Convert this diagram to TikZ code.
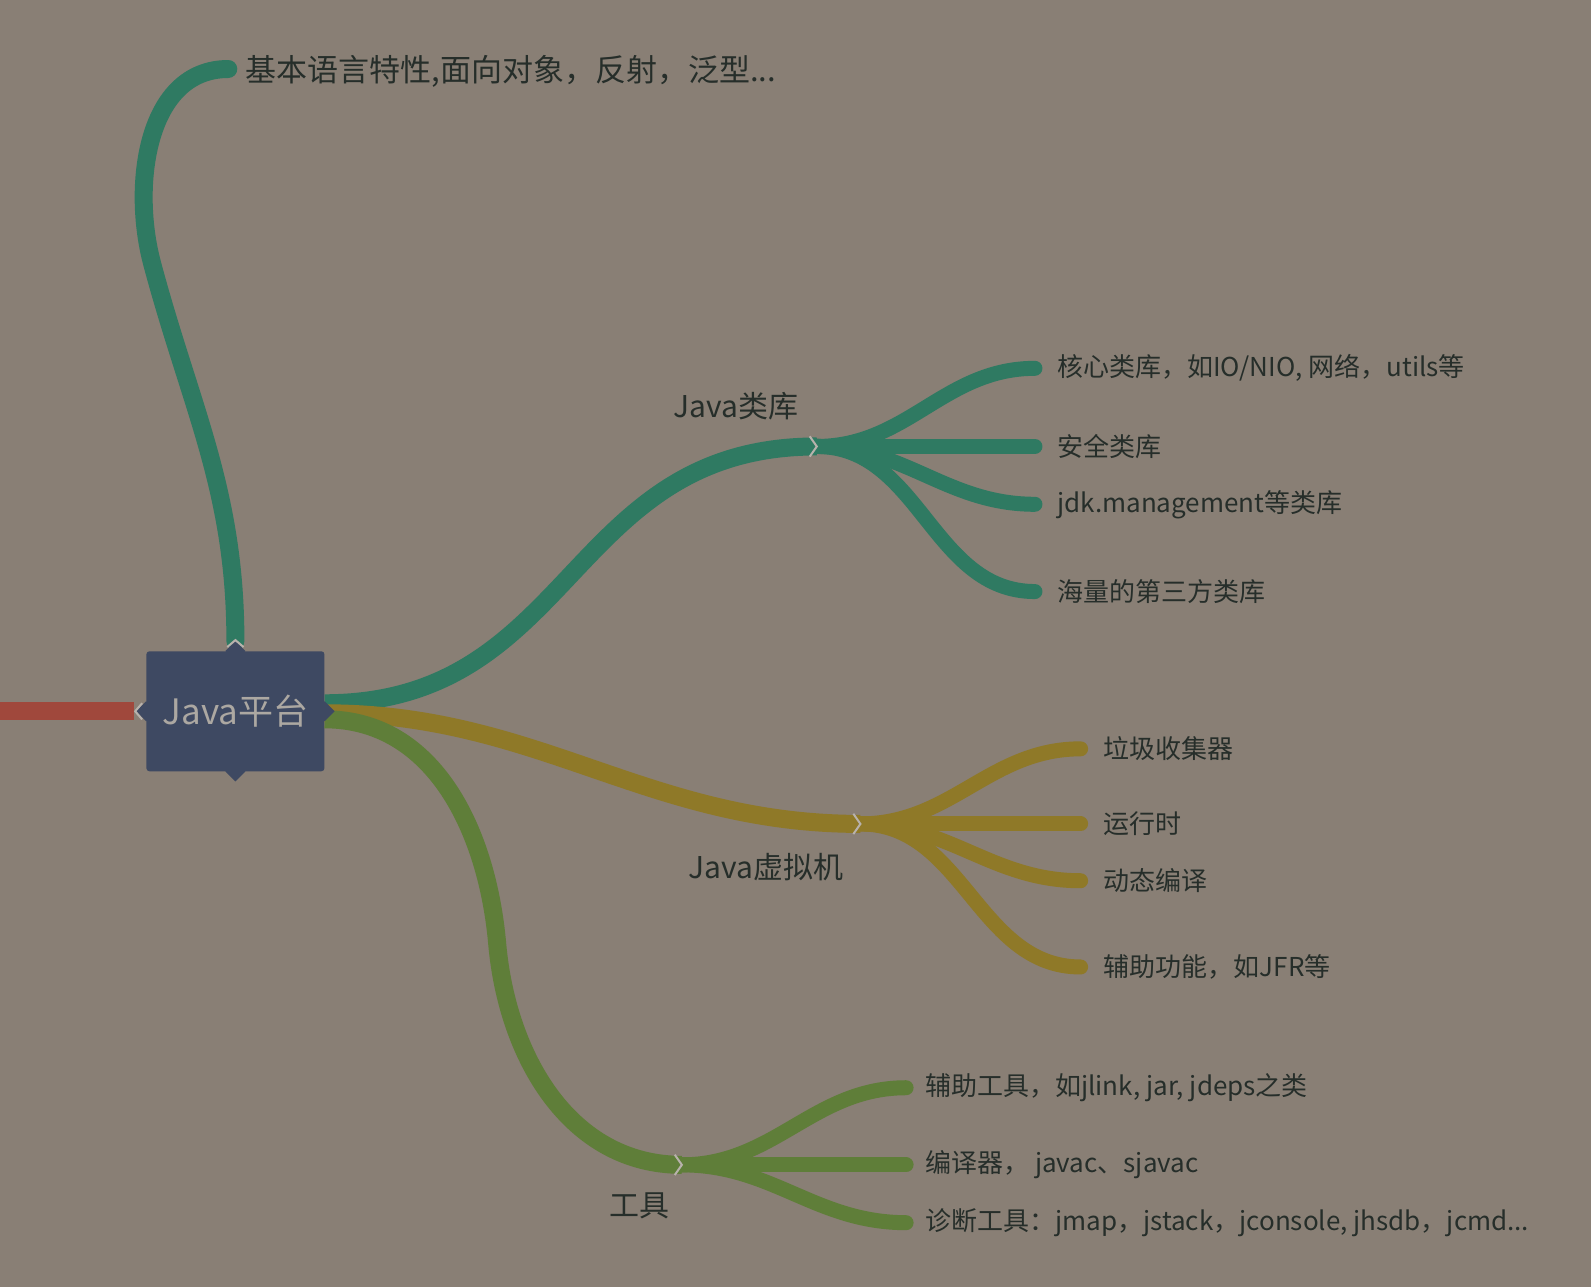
\documentclass[tikz,border=0pt]{standalone}
\usepackage{fontspec}
\setmainfont{Noto Sans CJK SC}
\usetikzlibrary{positioning}
\definecolor{bgcol}{RGB}{137,127,117}
\definecolor{libcol}{RGB}{47,122,98}
\definecolor{jvmcol}{RGB}{143,121,40}
\definecolor{toolcol}{RGB}{95,126,57}
\definecolor{rootcol}{RGB}{62,73,98}
\definecolor{redcol}{RGB}{160,72,60}
\definecolor{txtcol}{RGB}{38,46,42}
\definecolor{rootlbl}{RGB}{172,168,162}
\begin{document}
\begin{tikzpicture}[x=1.0147pt,y=1.0147pt,every node/.style={font=\fontsize{26}{26}\selectfont,text=txtcol,inner sep=0pt},
		branch/.style={line width=18pt},
		twig/.style={line width=15pt,line cap=round},
		notch/.style={bgcol!60!white,line width=2pt}]
		\fill[bgcol](0,0)rectangle(1568,-1268.4);
		\useasboundingbox(0,0)rectangle(1568,-1268.4);
		\node[fill=rootcol,rounded corners=3pt,minimum width=178pt,minimum height=120pt,text=rootlbl,font=\fontsize{35}{35}\selectfont](J)at(232,-701){Java平台};
		\coordinate(IN)at(0,-701);
		\coordinate(LIB)at(805,-440);
		\coordinate(JVM)at(848,-812);
		\coordinate(TL)at(672,-1148);
		\coordinate(TURN)at(490,-930);
		\coordinate(BEND)at(150,-260);
		\coordinate(LANG)at(225,-68);
		\coordinate(L1)at(1020,-363);
		\coordinate(L2)at(1020,-440);
		\coordinate(L3)at(1020,-497);
		\coordinate(L4)at(1020,-583);
		\coordinate(V1)at(1065,-738);
		\coordinate(V2)at(1065,-812);
		\coordinate(V3)at(1065,-868);
		\coordinate(V4)at(1065,-953);
		\coordinate(T1)at(893,-1072);
		\coordinate(T2)at(893,-1148);
		\coordinate(T3)at(893,-1205);
		% main branches
		\draw[branch,redcol]([xshift=-12pt]J.west)--(IN);
		\draw[branch,libcol,line cap=round]([yshift=10pt]J.north)to[out=90,in=-75](BEND)to[out=105,in=180](LANG);
		\draw[branch,libcol]([yshift=8pt]J.east)to[out=0,in=180,looseness=1.15](LIB);
		\draw[branch,jvmcol]([yshift=-2pt]J.east)to[out=0,in=180](JVM);
		\draw[branch,toolcol]([yshift=-8pt]J.east)to[out=0,in=95](TURN)to[out=-85,in=180](TL);
		% twigs
		\foreach\p in{L1,L2,L3,L4}{\draw[twig,libcol](LIB)to[out=0,in=180](\p);}
		\foreach\p in{V1,V2,V3,V4}{\draw[twig,jvmcol](JVM)to[out=0,in=180](\p);}
		\foreach\p in{T1,T2,T3}{\draw[twig,toolcol](TL)to[out=0,in=180](\p);}
		\foreach\c in{LIB,JVM,TL}{\draw[notch]([shift={(-7,10)}]\c)--(\c)--([shift={(-7,-10)}]\c);}
		% root points
		\foreach\a in{north,south,east,west}{\fill[rootcol]([xshift=-10pt]J.\a)--([yshift=10pt]J.\a)--([xshift=10pt]J.\a)--([yshift=-10pt]J.\a)--cycle;}
		\draw[notch]([shift={(-4,8)}]J.west)--([xshift=-11pt]J.west)--([shift={(-4,-8)}]J.west);
		\draw[notch]([shift={(-8,4)}]J.north)--([yshift=11pt]J.north)--([shift={(8,4)}]J.north);
		% labels
		\node[right,font=\fontsize{31}{31}\selectfont]at(242,-70){基本语言特性,面向对象，反射，泛型...};
		\node[font=\fontsize{30}{30}\selectfont]at(725,-400){Java类库};
		\node[font=\fontsize{30}{30}\selectfont]at(755,-855){Java虚拟机};
		\node[font=\fontsize{30}{30}\selectfont]at(630,-1188){工具};
		\node[right=22pt of L1]{核心类库，如IO/NIO, 网络，utils等};
		\node[right=22pt of L2]{安全类库};
		\node[right=22pt of L3]{jdk.management等类库};
		\node[right=22pt of L4]{海量的第三方类库};
		\node[right=23pt of V1]{垃圾收集器};
		\node[right=23pt of V2]{运行时};
		\node[right=23pt of V3]{动态编译};
		\node[right=23pt of V4]{辅助功能，如JFR等};
		\node[right=19pt of T1]{辅助工具，如jlink, jar, jdeps之类};
		\node[right=19pt of T2]{编译器， javac、sjavac};
		\node[right=19pt of T3]{诊断工具：jmap，jstack，jconsole, jhsdb，jcmd...};
\end{tikzpicture}
\end{document}
